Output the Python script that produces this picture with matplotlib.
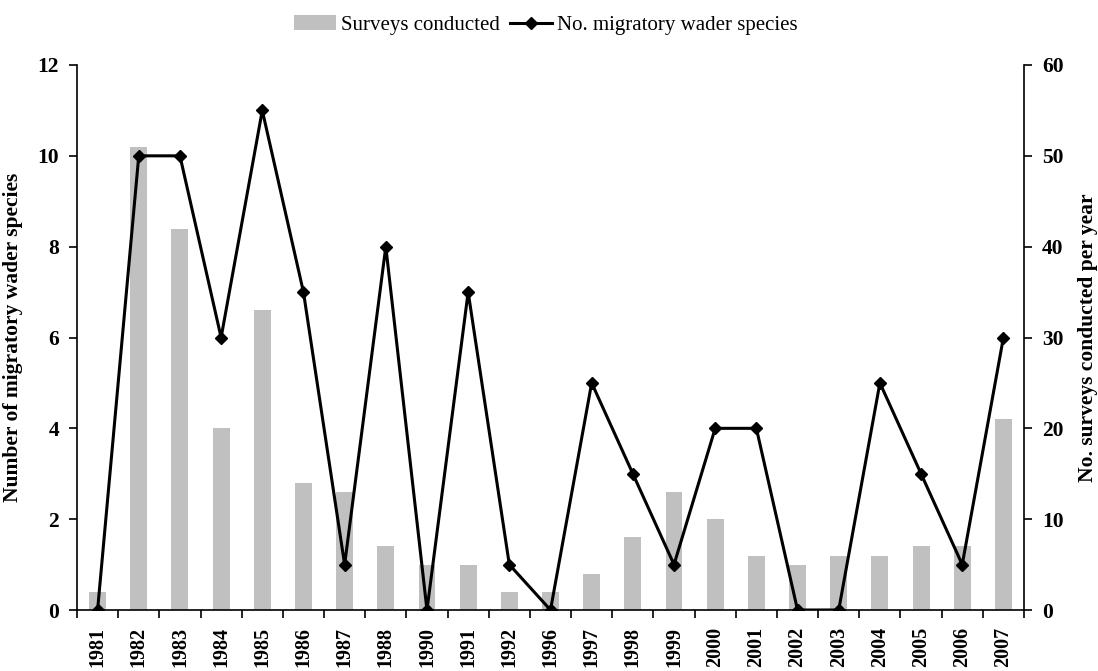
import numpy as np
import matplotlib
matplotlib.use("Agg")
from matplotlib import pyplot as plt

years = ["1981", "1982", "1983", "1984", "1985", "1986", "1987", "1988", "1990",
         "1991", "1992", "1996", "1997", "1998", "1999", "2000", "2001", "2002",
         "2003", "2004", "2005", "2006", "2007"]
surveys = [2, 51, 42, 20, 33, 14, 13, 7, 5, 5, 2, 2, 4, 8, 13, 10, 6, 5, 6, 6, 7, 7, 21]
species = [0, 10, 10, 6, 11, 7, 1, 8, 0, 7, 1, 0, 5, 3, 1, 4, 4, 0, 0, 5, 3, 1, 6]

plt.rcParams['font.family'] = ['Liberation Serif', 'DejaVu Serif']

fig = plt.figure(figsize=(10.98, 6.71), dpi=100)
# plot area in pixels: x 77..1024, y 65..610
ax = fig.add_axes([77 / 1098, 61 / 671, (1024 - 77) / 1098, (610 - 65) / 671])
ax2 = ax.twinx()

x = np.arange(len(years))
bars = ax2.bar(x, surveys, width=0.41, color='#c0c0c0', label='Surveys conducted')
line, = ax.plot(x, species, color='black', lw=2.2, marker='D', ms=6.5,
                label='No. migratory wader species')

# line drawn over the bars
ax.set_zorder(ax2.get_zorder() + 1)
ax.patch.set_visible(False)

ax.set_xlim(-0.5, len(years) - 0.5)
ax.set_ylim(0, 12)
ax2.set_ylim(0, 60)
ax.set_yticks(range(0, 13, 2))
ax2.set_yticks(range(0, 61, 10))

ax.set_xticks(x)
ax.set_xticklabels(years, rotation=90, fontweight='bold', fontsize=14.5)
ax.tick_params(axis='x', length=0, pad=12)
ax.set_xticks(np.arange(-0.5, len(years), 1), minor=True)
ax.tick_params(axis='x', which='minor', length=6, width=1.2, direction='out')

for a in (ax, ax2):
    for s in a.spines.values():
        s.set_visible(False)
    for lab in a.get_yticklabels():
        lab.set_fontweight('bold')
        lab.set_fontsize(15.5)
ax.spines['left'].set_visible(True)
ax.spines['bottom'].set_visible(True)
ax2.spines['right'].set_visible(True)
for s in (ax.spines['left'], ax.spines['bottom'], ax2.spines['right']):
    s.set_linewidth(1.2)
ax.tick_params(axis='y', length=6, width=1.2, direction='out', pad=7)
ax2.tick_params(axis='y', length=6, width=1.2, direction='out', pad=7)

ax.set_ylabel('Number of migratory wader species', fontweight='bold', fontsize=15.5, labelpad=10)
ax2.set_ylabel('No. surveys conducted per year', fontweight='bold', fontsize=15.5, labelpad=10)

fig.legend([bars, line], ['Surveys conducted', 'No. migratory wader species'],
           loc='upper center', bbox_to_anchor=(0.497, 1.005), ncol=2, frameon=False,
           fontsize=15, handlelength=2.0, handletextpad=0.25, columnspacing=0.5)

fig.savefig('out.png', dpi=100)
